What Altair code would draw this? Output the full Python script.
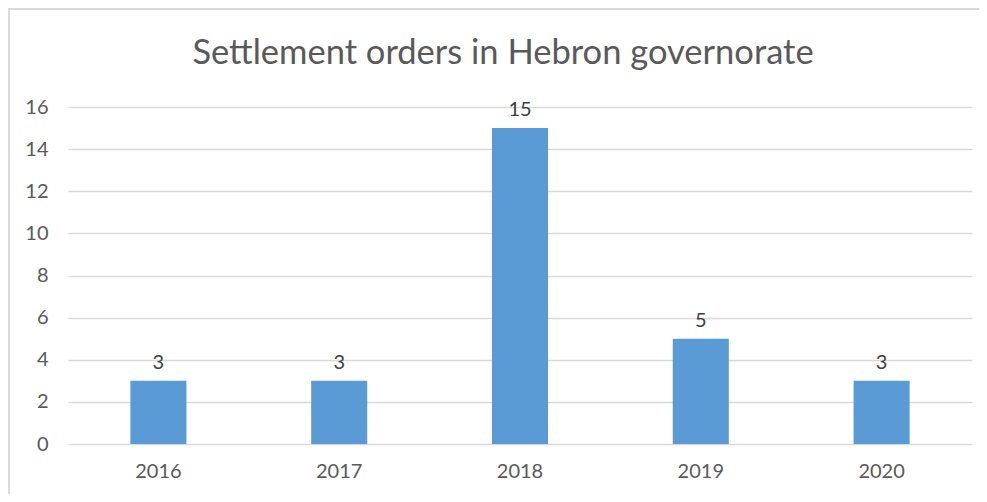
import altair as alt
import pandas as pd

years = ["2016", "2017", "2018", "2019", "2020"]
orders = [3, 3, 15, 5, 3]
title_text = "Settlement orders in Hebron governorate"

df = pd.DataFrame({"year": years, "orders": orders})
title_df = pd.DataFrame({"title": [title_text]})

FONT = "Lato"
GRAY = "#595959"

x_enc = alt.X("year:N", sort=years, title=None,
              scale=alt.Scale(paddingInner=0.69, paddingOuter=0.345),
              axis=alt.Axis(labelAngle=0, labelFontSize=20, labelColor=GRAY,
                            labelFont=FONT, ticks=False, domain=False,
                            labelPadding=17, grid=False))
y_enc = alt.Y("orders:Q", title=None,
              scale=alt.Scale(domain=[0, 16], nice=False),
              axis=alt.Axis(values=list(range(0, 17, 2)), labelFontSize=20,
                            labelColor=GRAY, labelFont=FONT, ticks=False,
                            domain=False, labelPadding=20, grid=True,
                            gridColor="#D9D9D9", gridWidth=1.5))

bars = alt.Chart(df).mark_bar(color="#5B9BD5").encode(x=x_enc, y=y_enc)

labels = alt.Chart(df).mark_text(dy=-18, fontSize=20, color="#404040",
                                 font=FONT).encode(
    x=alt.X("year:N", sort=years),
    y=alt.Y("orders:Q"),
    text="orders:Q",
)

title = alt.Chart(title_df).mark_text(
    fontSize=34.5, font=FONT, color=GRAY, baseline="alphabetic", align="center"
).encode(x=alt.value(435), y=alt.value(-43), text="title:N")

border_top = alt.Chart(title_df).mark_rule(color="#D9D9D9", strokeWidth=2).encode(
    x=alt.value(-60), x2=alt.value(915), y=alt.value(-98))
border_left = alt.Chart(title_df).mark_rule(color="#D9D9D9", strokeWidth=2).encode(
    x=alt.value(-59), y=alt.value(-98), y2=alt.value(400))

chart = alt.layer(bars, labels, title, border_top, border_left).properties(
    width=904,
    height=337,
    autosize=alt.AutoSizeParams(type="none"),
    padding={"left": 60, "top": 99, "right": 7, "bottom": 50},
).configure_view(stroke=None)

chart.save("out.html", embed_options={"renderer": "svg", "actions": False})
